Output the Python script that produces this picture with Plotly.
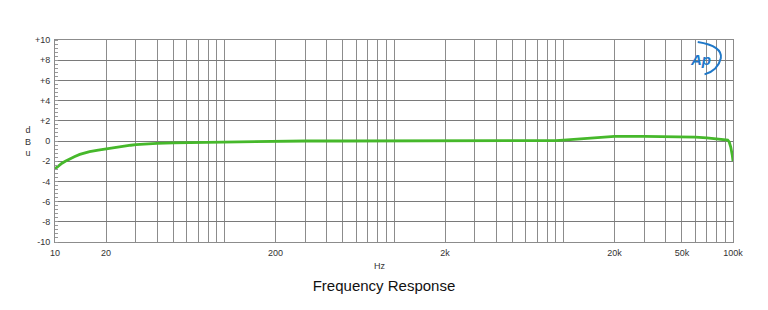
import plotly.graph_objects as go

# ---- data ----
freq_hz = [10, 10.5, 11, 11.5, 12, 13, 14, 15, 16, 18, 20, 22, 25, 28, 30, 35,
           40, 50, 60, 70, 100, 150, 200, 300, 500, 1000, 1500, 2000, 3000,
           5000, 7000, 8000, 9000, 10000, 12000, 14000, 16000, 18000, 20000,
           30000, 40000, 50000, 55000, 60000, 70000, 80000, 90000, 93000,
           95000, 97000, 99000, 100000]
level_dbu = [-2.75, -2.45, -2.2, -2.0, -1.82, -1.55, -1.33, -1.17, -1.05, -0.9,
             -0.77, -0.65, -0.52, -0.42, -0.36, -0.28, -0.23, -0.18, -0.16,
             -0.15, -0.12, -0.06, -0.02, 0.0, 0.0, 0.0, -0.02, -0.03, -0.02,
             0.0, 0.0, 0.02, 0.04, 0.08, 0.17, 0.27, 0.35, 0.41, 0.45, 0.45,
             0.45, 0.44, 0.42, 0.38, 0.31, 0.24, 0.16, 0.1, -0.1, -0.6, -1.4,
             -2.0]

x_grid = [m * 10 ** e for e in range(1, 5) for m in range(1, 10)] + [100000]
x_labels = {10: "10", 20: "20", 200: "200", 2000: "2k", 20000: "20k",
            50000: "50k", 100000: "100k"}
y_ticks = [10, 8, 6, 4, 2, 0, -2, -4, -6, -8, -10]
y_labels = ["+10", "+8", "+6", "+4", "+2", "0", "-2", "-4", "-6", "-8", "-10"]

fig = go.Figure()
fig.add_trace(go.Scatter(x=freq_hz, y=level_dbu, mode="lines",
                         line=dict(color="#46b82b", width=2.8),
                         showlegend=False, hoverinfo="skip"))

fig.update_layout(
    width=768, height=310,
    margin=dict(l=55, r=35, t=40, b=68),
    paper_bgcolor="white", plot_bgcolor="white",
    font=dict(family="Liberation Sans, Arial, sans-serif", size=9, color="#333"),
    title=dict(text="Frequency Response", x=0.5, xanchor="center",
               yref="container", y=1 - 286 / 310, yanchor="middle",
               font=dict(size=15, color="#111")),
)

fig.update_xaxes(
    type="log", range=[1, 5],
    tickmode="array", tickvals=x_grid,
    ticktext=[x_labels.get(v, "") for v in x_grid],
    showgrid=True, gridcolor="#8c8c8c", gridwidth=1,
    showline=True, linecolor="#8c8c8c", mirror=True,
    ticks="", ticklabelstandoff=2, zeroline=False,
)
fig.update_yaxes(
    range=[-10, 10], tickmode="array", tickvals=y_ticks, ticktext=y_labels,
    showgrid=True, gridcolor="#7a7a7a", gridwidth=1,
    showline=True, linecolor="#8c8c8c", mirror=True,
    ticks="", zeroline=False, ticklabelstandoff=2,
    minor=dict(dtick=0.4, ticks="inside", ticklen=3, tickcolor="#999",
               showgrid=False),
)

# x axis unit label
fig.add_annotation(text="Hz", xref="paper", yref="paper",
                   x=(380 - 55) / 678, y=-(266 - 242) / 202, showarrow=False,
                   font=dict(size=9, color="#333"), xanchor="center",
                   yanchor="middle")

# stacked axis label "dBu"
fig.add_annotation(text="d<br>B<br>u", xref="paper", yref="paper",
                   x=-0.04, y=0.5, showarrow=False, align="center",
                   font=dict(size=9, color="#333"), xanchor="center",
                   yanchor="middle")

# Ap logo
fig.add_annotation(text="<b><i>Ap</i></b>", xref="paper", yref="paper",
                   x=0.952, y=0.905, showarrow=False,
                   font=dict(size=15, color="#1f78c8",
                             family="Liberation Sans, Arial, sans-serif"),
                   xanchor="center", yanchor="middle")
fig.add_shape(type="path", xref="paper", yref="paper",
              path="M 0.948 0.99 Q 0.985 0.97 0.982 0.91 Q 0.978 0.85 0.958 0.83",
              line=dict(color="#1f78c8", width=2))

fig.write_html("out.html")
